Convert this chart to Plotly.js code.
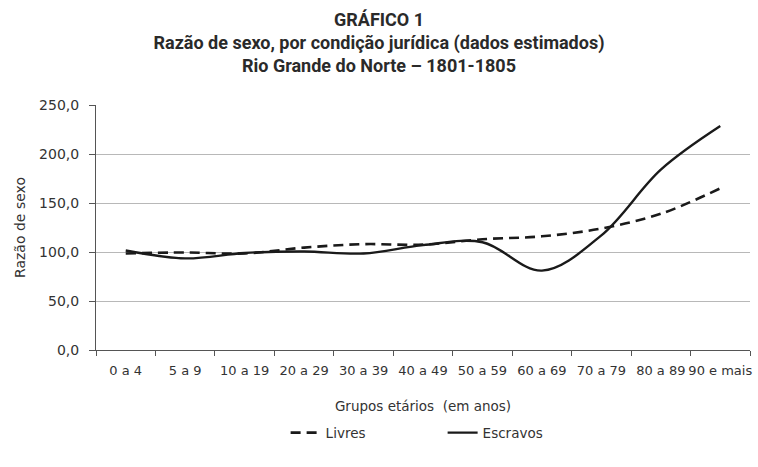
<!DOCTYPE html>
<html>
<head>
<meta charset="utf-8">
<script src="https://cdn.plot.ly/plotly-3.0.1.min.js"></script>
<style>html,body{margin:0;padding:0;background:#fff;}#chart{width:758px;height:467px;}</style>
</head>
<body>
<div id="chart"></div>
<script>
const categories = ["0 a 4","5 a 9","10 a 19","20 a 29","30 a 39","40 a 49","50 a 59","60 a 69","70 a 79","80 a 89","90 e mais"];
const livres   = [98.5, 99.5, 98.5, 104.5, 108, 107.5, 113, 116, 124, 139, 165];
const escravos = [101.5, 93.5, 99, 100.5, 98.5, 107, 110, 81, 117, 184, 228.5];
const yTicks = [0, 50, 100, 150, 200, 250];

const baseFont = "'DejaVu Sans', sans-serif";

const traces = [
  {x: categories, y: livres, name: "Livres", type: "scatter", mode: "lines",
   line: {color: "#1a1a1a", width: 2.6, dash: "10px,6px", shape: "spline", smoothing: 1}},
  {x: categories, y: escravos, name: "Escravos", type: "scatter", mode: "lines",
   line: {color: "#1a1a1a", width: 2.4, shape: "spline", smoothing: 1}}
];

const layout = {
  width: 758, height: 467,
  margin: {l: 96, r: 8, t: 105, b: 117},
  paper_bgcolor: "#fff", plot_bgcolor: "#fff",
  separators: ",.",
  font: {family: baseFont, color: "#333", size: 13},
  title: {
    text: "<b>GRÁFICO 1</b><br><b>Razão de sexo, por condição jurídica (dados estimados)</b><br><b>Rio Grande do Norte – 1801-1805</b>",
    font: {family: "Roboto, 'Open Sans', sans-serif", size: 18, color: "#2a2a2a"},
    x: 0.5, xanchor: "center", xref: "container",
    yref: "container", y: 0.945, yanchor: "top"
  },
  xaxis: {
    type: "category",
    range: [-0.5, 10.5],
    showline: true, linecolor: "#555", linewidth: 1,
    ticks: "outside", tickson: "boundaries", ticklen: 5, tickcolor: "#555",
    tickangle: 0,
    ticklabelstandoff: 8,
    showgrid: false, zeroline: false,
    tickfont: {family: baseFont, size: 13, color: "#333"},
    title: {text: "Grupos etários  (em anos)", font: {family: baseFont, size: 13.5, color: "#333"}, standoff: 24}
  },
  yaxis: {
    range: [0, 250],
    tickvals: yTicks,
    tickformat: ".1f",
    showline: true, linecolor: "#555", linewidth: 1,
    ticks: "outside", ticklen: 6, tickcolor: "#555",
    ticklabelstandoff: 7,
    showgrid: true, gridcolor: "#b8b8b8", gridwidth: 1,
    zeroline: false,
    tickfont: {family: baseFont, size: 14, color: "#333"},
    title: {text: "Razão de sexo", font: {family: baseFont, size: 14, color: "#333"}, standoff: 10}
  },
  showlegend: true,
  legend: {
    orientation: "h", x: 0.53, xanchor: "center", y: -0.275, yanchor: "top",
    font: {family: baseFont, size: 13.5, color: "#333"},
    entrywidth: 112, entrywidthmode: "pixels",
    bgcolor: "rgba(0,0,0,0)"
  }
};

Plotly.newPlot("chart", traces, layout, {displayModeBar: false, staticPlot: true});
</script>
</body>
</html>
